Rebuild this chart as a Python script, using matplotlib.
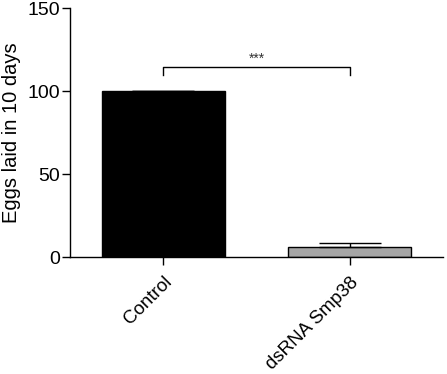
import matplotlib
matplotlib.use("Agg")
import matplotlib.pyplot as plt

plt.rcParams['font.family'] = ['Liberation Sans', 'DejaVu Sans']

groups = ['Control', 'dsRNA Smp38']
eggs = [100.0, 6.2]
sem = [0.3, 2.2]
bar_colors = ['#000000', '#a6a6a6']
yticks = [0, 50, 100, 150]
bracket_y = 114.3
bracket_drop = 4.7
sig_label = '***'

fig = plt.figure(figsize=(4.47, 3.74), dpi=100)
ax = fig.add_axes([0.1566, 0.3128, 0.8344, 0.6658])

x = list(range(len(groups)))
ax.bar(x, eggs, width=0.66, color=bar_colors, edgecolor='black', linewidth=1.0, zorder=2)
ax.errorbar(x, eggs, yerr=[[0, 0], sem], fmt='none', ecolor='black',
            elinewidth=1.0, capsize=22.5, capthick=1.0, zorder=3)

# significance bracket
ax.plot([0, 0, 1, 1], [bracket_y - bracket_drop, bracket_y, bracket_y, bracket_y - bracket_drop],
        color='black', linewidth=1.0, clip_on=False)
ax.text(0.5, bracket_y + 0.8, sig_label, ha='center', va='bottom', fontsize=10, color='#333333')

ax.set_xlim(-0.5, 1.5)
ax.set_ylim(0, 150)
ax.set_yticks(yticks)
ax.set_xticks(x)
ax.set_xticklabels(groups, rotation=45, ha='right', rotation_mode='anchor', fontsize=13.5)
ax.tick_params(axis='y', labelsize=14, length=6, width=1.0, pad=1)
ax.tick_params(axis='x', length=6, width=1.0, pad=6)
ax.set_ylabel('Eggs laid in 10 days', fontsize=14.5, labelpad=5)

for side in ['top', 'right']:
    ax.spines[side].set_visible(False)
for side in ['left', 'bottom']:
    ax.spines[side].set_linewidth(1.0)

fig.savefig('out.png', dpi=100)
